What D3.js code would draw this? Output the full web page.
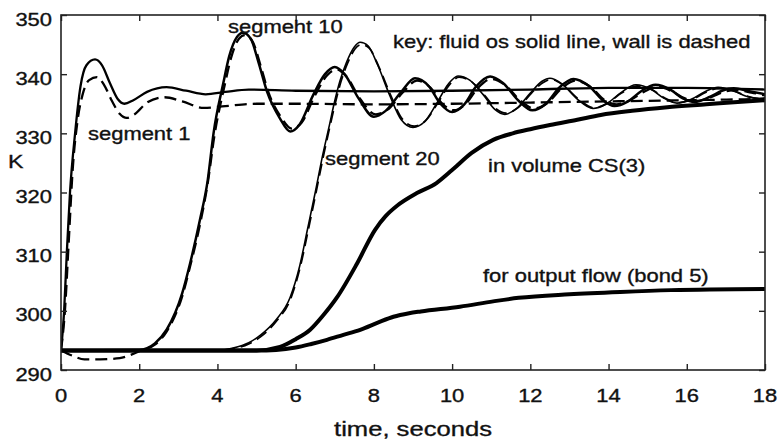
<!DOCTYPE html>
<html>
<head>
<meta charset="utf-8">
<script src="https://cdn.jsdelivr.net/npm/d3@7"></script>
<style>
  body { margin: 0; background: #fff; }
  text { font-family: "Liberation Sans", Arial, sans-serif; fill: #111; stroke: #111; stroke-width: 0.35; }
</style>
</head>
<body>
<svg id="chart" width="780" height="440"></svg>
<script>
// --- data: [time s, temperature K] ---
const xTicks = [0, 2, 4, 6, 8, 10, 12, 14, 16, 18];
const yTicks = [290, 300, 310, 320, 330, 340, 350];

const seg1Fluid = [[0,293.3],[0.08,300],[0.15,310],[0.23,320],[0.36,330],[0.5,338],[0.65,341.5],[0.87,342.5],[1.05,341.5],[1.25,338.5],[1.45,335.8],[1.62,335],[1.85,335.6],[2.2,337],[2.7,337.8],[3.2,337.2],[3.7,336.6],[4.2,337],[4.8,337.4],[6,337.2],[8,337.1],[10,337.2],[12,337.4],[14,337.7],[16,337.7],[18,337.4]];
const seg1Wall = [[0,293.3],[0.1,300],[0.2,312],[0.3,324],[0.42,332],[0.55,336.5],[0.72,339],[0.92,339.5],[1.1,338.2],[1.3,335.5],[1.5,333.3],[1.68,332.6],[1.9,333.3],[2.2,335.2],[2.65,336.1],[3.1,335.4],[3.65,334.3],[4.2,334.6],[5,335],[6,335],[8,334.9],[10,335],[12,335.2],[14,335.4],[16,335.6],[18,335.8]];

const seg10Fluid = [[0,293.3],[2.0,293.4],[2.4,294.5],[2.7,296.8],[3.1,303],[3.3,308],[3.55,315.3],[3.75,322],[3.9,330],[4.15,338.5],[4.3,343],[4.5,346.3],[4.65,347],[4.85,346],[5.05,342],[5.27,337],[5.6,332.5],[5.86,330.3],[6.1,331.5],[6.45,336.5],[6.75,340],[7.0,341.2],[7.25,340],[7.6,336],[8.0,332.8],[8.3,333.8],[8.7,337],[9.05,339.3],[9.4,338],[9.7,335],[10.0,333.6],[10.3,334.8],[10.6,337.8],[10.97,339.6],[11.3,338.5],[11.7,335.5],[12.05,333.9],[12.4,335],[12.75,337.8],[13.1,339.2],[13.5,338],[13.85,335.6],[14.15,334.6],[14.5,335.4],[14.85,337.2],[15.2,338.2],[15.6,337.3],[15.9,335.9],[16.2,335.3],[16.6,336.2],[16.9,337.2],[17.2,337.6],[17.6,337.1],[18,336.6]];
const seg10Wall = [[0,293.3],[0.3,292.4],[0.6,291.8],[1.0,291.8],[1.5,292.0],[1.8,292.6],[2.05,293.3],[2.4,294.3],[2.7,296.5],[3.1,302.5],[3.3,307.5],[3.55,314.5],[3.75,321.5],[3.92,329.5],[4.18,338],[4.35,342.8],[4.55,346],[4.7,346.6],[4.9,345.5],[5.1,341.5],[5.3,337],[5.62,332.8],[5.9,330.8],[6.15,331.8],[6.5,336.5],[6.8,339.8],[7.05,340.8],[7.3,339.6],[7.65,335.8],[8.05,333.2],[8.35,334],[8.75,337],[9.1,338.9],[9.45,337.7],[9.75,335],[10.05,333.9],[10.35,335],[10.65,337.6],[11.0,339.2],[11.35,338.2],[11.75,335.5],[12.1,334.2],[12.45,335.2],[12.8,337.6],[13.15,338.9],[13.55,337.8],[13.9,335.6],[14.2,334.9],[14.55,335.6],[14.9,337],[15.25,337.9],[15.65,337],[15.95,335.9],[16.25,335.5],[16.65,336.2],[16.95,337],[17.25,337.3],[17.65,336.9],[18,336.4]];

const seg20Fluid = [[0,293.3],[4.0,293.3],[4.4,293.7],[4.8,294.6],[5.1,295.9],[5.5,298.5],[5.86,302.3],[6.1,307.5],[6.3,313.7],[6.5,320],[6.7,326.6],[6.85,331],[7.0,335.5],[7.13,338.8],[7.3,342],[7.5,344.6],[7.65,345.4],[7.85,344.8],[8.1,341.5],[8.4,336.5],[8.7,332.3],[9.0,331],[9.3,332],[9.6,335],[9.9,338.3],[10.15,339.7],[10.45,339],[10.8,336.5],[11.1,334],[11.35,333.2],[11.65,334.2],[12.0,336.8],[12.3,338.8],[12.5,339.3],[12.8,338.4],[13.2,335.8],[13.6,334.2],[13.95,335],[14.3,336.8],[14.7,338.2],[15.1,337.4],[15.4,336],[15.75,335.1],[16.1,335.7],[16.45,337],[16.8,337.8],[17.2,337.2],[17.5,336.3],[17.8,335.9],[18,336]];
const seg20Wall = [[0,293.3],[4.0,293.3],[4.4,293.6],[4.8,294.4],[5.1,295.6],[5.5,298.2],[5.88,302.2],[6.12,307.5],[6.32,313.6],[6.52,320],[6.72,326.5],[6.87,331],[7.02,335.3],[7.16,338.8],[7.33,341.9],[7.52,344.3],[7.68,345],[7.88,344.4],[8.13,341.2],[8.43,336.4],[8.73,332.4],[9.03,331.2],[9.33,332.2],[9.63,335.1],[9.93,338.2],[10.18,339.5],[10.48,338.8],[10.83,336.4],[11.13,334.1],[11.38,333.4],[11.68,334.3],[12.03,336.8],[12.33,338.6],[12.53,339.1],[12.83,338.2],[13.23,335.8],[13.63,334.3],[13.98,335.1],[14.33,336.8],[14.73,338],[15.13,337.3],[15.43,336],[15.78,335.2],[16.13,335.7],[16.48,336.9],[16.83,337.6],[17.23,337.1],[17.53,336.3],[17.83,335.9],[18,336]];

const volumeCS3 = [[0,293.3],[5.0,293.3],[5.6,293.9],[6.0,295.2],[6.37,296.8],[6.7,299.2],[7.06,302.3],[7.57,308],[8.03,313.7],[8.3,316],[8.6,317.8],[9.1,319.9],[9.6,321.6],[10.0,323.8],[10.5,326.7],[11.05,328.9],[11.55,330],[12.0,330.7],[12.5,331.4],[13.2,332.3],[13.8,333.1],[14.6,333.8],[15.5,334.4],[16.5,334.9],[17.3,335.3],[18,335.6]];
const outputBond5 = [[0,293.3],[5.0,293.3],[5.5,293.4],[6.0,293.8],[6.4,294.4],[6.8,295.1],[7.2,295.9],[7.65,296.8],[8.1,298],[8.5,299],[8.9,299.6],[9.2,299.9],[10.2,300.7],[11.05,301.6],[11.7,302.2],[13,302.8],[14.3,303.2],[15.6,303.5],[18,303.7]];

// --- layout ---
const svg = d3.select('#chart');
const margin = { left: 61, right: 15, top: 15, bottom: 70 };
const W = 780, H = 440;
const x = d3.scaleLinear().domain([0, 18]).range([margin.left, W - margin.right]);
const y = d3.scaleLinear().domain([290, 350]).range([H - margin.bottom, margin.top]);
const SX = 1.22; // the source text is stretched horizontally

svg.append('clipPath').attr('id', 'plot')
  .append('rect')
  .attr('x', x(0)).attr('y', y(350))
  .attr('width', x(18) - x(0)).attr('height', y(290) - y(350));

// --- curves ---
const line = d3.line()
  .x(d => x(d[0]))
  .y(d => y(d[1]))
  .curve(d3.curveMonotoneX);

const series = [
  { data: outputBond5, w: 4 },
  { data: volumeCS3, w: 4 },
  { data: seg1Wall, w: 2.3, dash: '12,6' },
  { data: seg10Wall, w: 2.3, dash: '12,6' },
  { data: seg20Wall, w: 1.8, dash: '12,6' },
  { data: seg1Fluid, w: 2.3 },
  { data: seg10Fluid, w: 2.5 },
  { data: seg20Fluid, w: 1.6 }
];

const g = svg.append('g').attr('clip-path', 'url(#plot)');
g.selectAll('path')
  .data(series)
  .enter().append('path')
  .attr('d', d => line(d.data))
  .attr('fill', 'none')
  .attr('stroke', '#000')
  .attr('stroke-width', d => d.w)
  .attr('stroke-dasharray', d => d.dash || null)
  .attr('stroke-linejoin', 'round');

// --- axes: inward ticks on all four sides ---
const tick = 6;
function ticksOnly(axis) { return axis.tickSizeOuter(0).tickFormat(''); }
svg.append('g').attr('transform', `translate(0,${y(290)})`)
  .call(ticksOnly(d3.axisBottom(x).tickValues(xTicks).tickSizeInner(-tick)));
svg.append('g').attr('transform', `translate(0,${y(350)})`)
  .call(ticksOnly(d3.axisTop(x).tickValues(xTicks).tickSizeInner(-tick)));
svg.append('g').attr('transform', `translate(${x(0)},0)`)
  .call(ticksOnly(d3.axisLeft(y).tickValues(yTicks).tickSizeInner(-tick)));
svg.append('g').attr('transform', `translate(${x(18)},0)`)
  .call(ticksOnly(d3.axisRight(y).tickValues(yTicks).tickSizeInner(-tick)));
svg.selectAll('.domain').remove();
svg.selectAll('.tick line').attr('stroke', '#222').attr('stroke-width', 1.4);

svg.append('rect')
  .attr('x', x(0)).attr('y', y(350))
  .attr('width', x(18) - x(0)).attr('height', y(290) - y(350))
  .attr('fill', 'none').attr('stroke', '#222').attr('stroke-width', 1.6);

// --- text ---
function label(px, py, str, size, anchor) {
  svg.append('g')
    .attr('transform', `translate(${px},${py}) scale(${SX},1)`)
    .append('text')
    .attr('font-size', size)
    .attr('text-anchor', anchor || 'start')
    .text(str);
}

xTicks.forEach(t => label(x(t), 402, String(t), 18, 'middle'));
yTicks.forEach(v => label(52, y(v) + 10.5, String(v), 18, 'end'));
label(413, 436, 'time, seconds', 21, 'middle');
label(8, 168, 'K', 19);

label(88, 140, 'segment 1', 18);
label(228, 33, 'segmeht 10', 18);
label(393, 48, 'key: fluid os solid line, wall is dashed', 18);
label(325, 165, 'segment 20', 18);
label(488, 172, 'in volume CS(3)', 18);
label(483, 282, 'for output flow (bond 5)', 18);
</script>
</body>
</html>
